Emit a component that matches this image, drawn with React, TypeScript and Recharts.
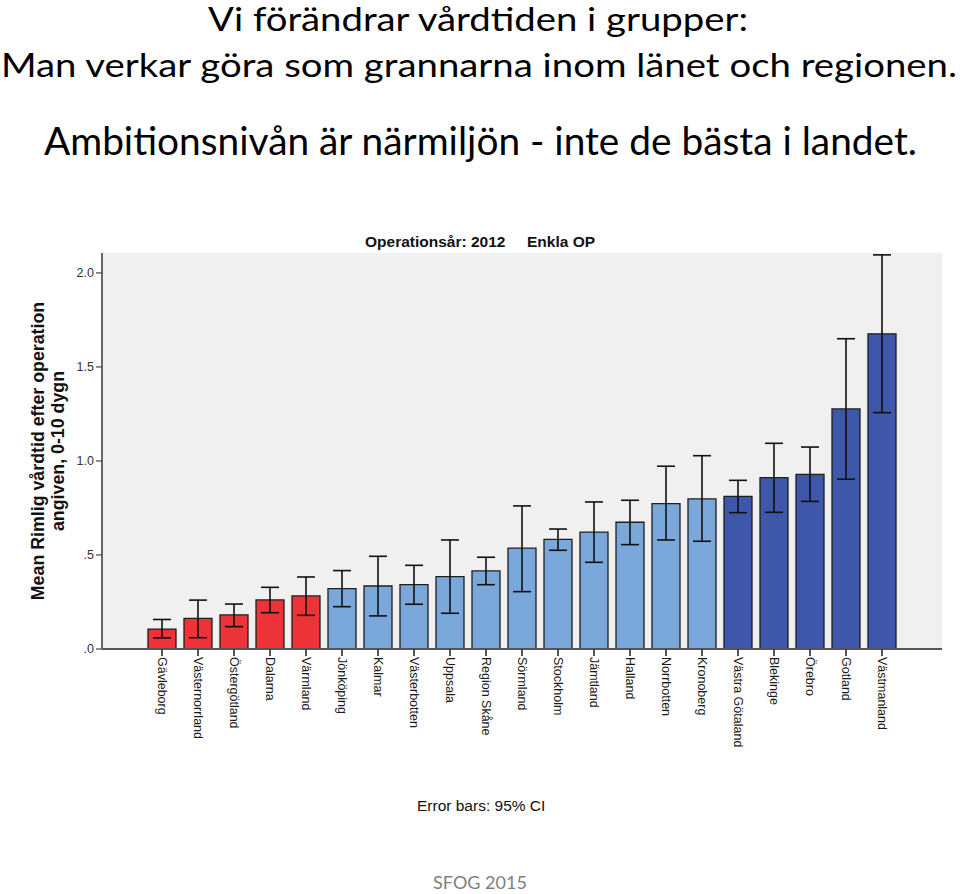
import React from "react";
import { BarChart, Bar, XAxis, YAxis, CartesianGrid, ErrorBar, Cell } from "recharts";

const regions = [
  "Gävleborg", "Västernorrland", "Östergötland", "Dalarna", "Värmland",
  "Jönköping", "Kalmar", "Västerbotten", "Uppsala", "Region Skåne", "Sörmland",
  "Stockholm", "Jämtland", "Halland", "Norrbotten", "Kronoberg",
  "Västra Götaland", "Blekinge", "Örebro", "Gotland", "Västmanland",
];
const means = [0.106, 0.163, 0.181, 0.261, 0.282, 0.321, 0.335, 0.342, 0.385, 0.415, 0.536, 0.583, 0.622, 0.674, 0.773, 0.798, 0.812, 0.911, 0.929, 1.277, 1.676];
const ciLow = [0.059, 0.06, 0.119, 0.193, 0.179, 0.225, 0.176, 0.238, 0.19, 0.342, 0.305, 0.525, 0.461, 0.555, 0.58, 0.573, 0.725, 0.727, 0.785, 0.903, 1.257];
const ciHigh = [0.157, 0.26, 0.239, 0.328, 0.383, 0.417, 0.493, 0.445, 0.58, 0.488, 0.761, 0.638, 0.782, 0.791, 0.972, 1.028, 0.897, 1.094, 1.074, 1.65, 2.096];
const groups = [
  "low", "low", "low", "low", "low",
  "mid", "mid", "mid", "mid", "mid", "mid", "mid", "mid", "mid", "mid", "mid",
  "high", "high", "high", "high", "high",
];
const yTicks = [0, 0.5, 1, 1.5, 2];

const groupColors: Record<string, string> = {
  low: "#EE3338",
  mid: "#7AA8DA",
  high: "#3E57AA",
};

const data = regions.map((name, i) => ({
  name,
  mean: means[i],
  err: [means[i] - ciLow[i], ciHigh[i] - means[i]],
  group: groups[i],
}));

const ARIAL = "'Liberation Sans', Arial, sans-serif";
const TITLE_FONT = "Lato, 'Open Sans', sans-serif";

const fmtY = (v: number) => {
  const s = v.toFixed(1);
  return s.startsWith("0") ? s.slice(1) : s;
};

const XTick = (props: any) => {
  const { x, y, payload } = props;
  return (
    <text
      x={x}
      y={y}
      transform={`rotate(90, ${x}, ${y})`}
      textAnchor="start"
      dominantBaseline="central"
      fontFamily={ARIAL}
      fontSize={12.5}
      fill="#1a1a1a"
    >
      {payload.value}
    </text>
  );
};

const YLabel = (props: any) => {
  const vb = props.viewBox || {};
  const cy = (vb.y ?? 253) + (vb.height ?? 396) / 2;
  return (
    <g>
      <text
        x={38}
        y={cy}
        transform={`rotate(-90, 38, ${cy})`}
        textAnchor="middle"
        dominantBaseline="central"
        fontFamily={ARIAL}
        fontWeight="bold"
        fontSize={17.8}
        fill="#111"
      >
        Mean Rimlig vårdtid efter operation
      </text>
      <text
        x={58}
        y={cy}
        transform={`rotate(-90, 58, ${cy})`}
        textAnchor="middle"
        dominantBaseline="central"
        fontFamily={ARIAL}
        fontWeight="bold"
        fontSize={17.8}
        fill="#111"
      >
        angiven, 0-10 dygn
      </text>
    </g>
  );
};

export default function App() {
  return (
    <div style={{ position: "absolute", left: 0, top: 0, width: 960, height: 894, background: "#fff", overflow: "hidden" }}>
      <svg width={960} height={894} style={{ position: "absolute", left: 0, top: 0 }}>
        <text x={208} y={31} textLength={540} lengthAdjust="spacingAndGlyphs" fontFamily={TITLE_FONT} fontSize={32} fill="#000">
          Vi förändrar vårdtiden i grupper:
        </text>
        <text x={1} y={77} textLength={956} lengthAdjust="spacingAndGlyphs" fontFamily={TITLE_FONT} fontSize={33} fill="#000">
          Man verkar göra som grannarna inom länet och regionen.
        </text>
        <text x={44} y={155} textLength={873} lengthAdjust="spacingAndGlyphs" fontFamily={TITLE_FONT} fontSize={38} fill="#000">
          Ambitionsnivån är närmiljön - inte de bästa i landet.
        </text>
        <text x={365} y={247} fontFamily={ARIAL} fontWeight="bold" fontSize={15.5} fill="#111">
          Operationsår: 2012
        </text>
        <text x={527} y={247} fontFamily={ARIAL} fontWeight="bold" fontSize={15.5} fill="#111">
          Enkla OP
        </text>
        <text x={417} y={811} fontFamily={ARIAL} fontSize={15.5} fill="#111">
          Error bars: 95% CI
        </text>
        <text x={480} y={889} textAnchor="middle" fontFamily={TITLE_FONT} fontSize={18} fill="#7f7f7f">
          SFOG 2015
        </text>
      </svg>
      <div style={{ position: "absolute", left: 0, top: 0 }}>
        <BarChart
          width={960}
          height={894}
          data={data}
          margin={{ top: 253, right: 18, bottom: 145, left: 62 }}
          barSize={28}
        >
          <CartesianGrid fill="#F0F0F0" horizontal={false} vertical={false} />
          <XAxis
            dataKey="name"
            xAxisId="main"
            interval={0}
            height={100}
            padding={{ left: 42, right: 42 }}
            axisLine={{ stroke: "#555", strokeWidth: 2 }}
            tickLine={{ stroke: "#222", strokeWidth: 1.5 }}
            tickSize={7}
            tickMargin={1}
            tick={<XTick />}
          />
          <XAxis
            xAxisId="top"
            orientation="top"
            dataKey="name"
            height={0}
            tick={false}
            tickLine={false}
            axisLine={{ stroke: "#888", strokeWidth: 2 }}
          />
          <YAxis
            yAxisId="main"
            width={40}
            domain={[0, 2.106]}
            ticks={yTicks}
            allowDataOverflow
            tickFormatter={fmtY}
            tickSize={6}
            tickMargin={2}
            axisLine={{ stroke: "#666", strokeWidth: 2 }}
            tickLine={{ stroke: "#444", strokeWidth: 1.2 }}
            tick={{ fontFamily: ARIAL, fontSize: 12.5, fill: "#333" }}
            label={{ content: (p: any) => <YLabel {...p} /> }}
          />
          <YAxis
            yAxisId="right"
            orientation="right"
            width={0}
            domain={[0, 2.106]}
            tick={false}
            tickLine={false}
            axisLine={{ stroke: "#888", strokeWidth: 2 }}
          />
          <Bar
            dataKey="mean"
            xAxisId="main"
            yAxisId="main"
            stroke="#1e1e1e"
            strokeWidth={1.3}
            isAnimationActive={false}
          >
            {data.map((d, i) => (
              <Cell key={i} fill={groupColors[d.group]} />
            ))}
            <ErrorBar dataKey="err" direction="y" width={9} stroke="#111" strokeWidth={1.6} />
          </Bar>
        </BarChart>
      </div>
    </div>
  );
}
